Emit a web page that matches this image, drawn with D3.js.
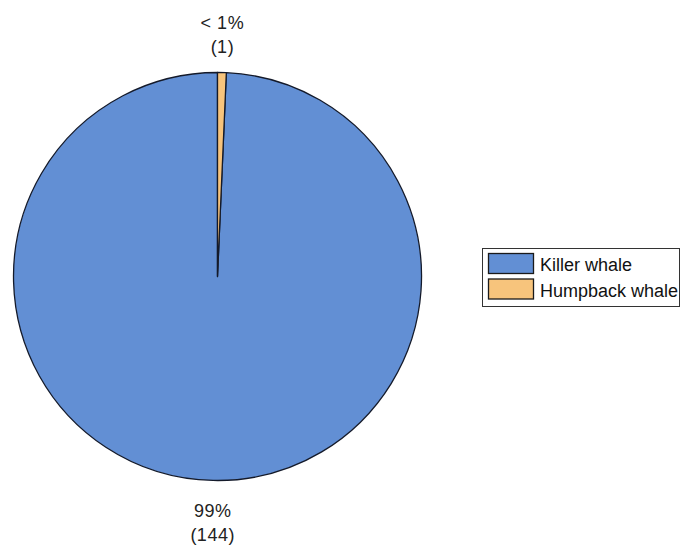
<!DOCTYPE html>
<html><head><meta charset="utf-8">
<script src="https://cdn.jsdelivr.net/npm/d3@7"></script>
<style>body{margin:0;background:#fff;} svg{display:block;font-family:Arial,"Liberation Sans",sans-serif;}</style>
</head><body>
<svg id="c" width="682" height="550"></svg>
<script>
const categories = ["Killer whale", "Humpback whale"];
const values = [144, 1];
const pctLabels = ["99%", "< 1%"];
const countLabels = ["(144)", "(1)"];
const colors = ["#628fd4", "#f7c47c"];

const svg = d3.select("#c");
const cx = 217.5, cy = 276.5, R = 204;
const data = categories.map((c, i) => ({cat: c, v: values[i], pct: pctLabels[i], cnt: countLabels[i], color: colors[i]}));

const pie = d3.pie().value(d => d.v).sort(null).startAngle(0).endAngle(-2 * Math.PI);
const arc = d3.arc().innerRadius(0).outerRadius(R);
const arcs = pie(data);

const g = svg.append("g").attr("transform", `translate(${cx},${cy})`);
g.selectAll("path").data(arcs).join("path")
  .attr("d", arc)
  .attr("fill", d => d.data.color)
  .attr("stroke", "#141a2a")
  .attr("stroke-width", 1.3)
  .attr("stroke-linejoin", "round");

// labels at 1.1R along slice midpoint
const lr = R * 1.1;
arcs.forEach(a => {
  const mid = (a.startAngle + a.endAngle) / 2;
  const x = lr * Math.sin(mid), y = -lr * Math.cos(mid);
  const top = y < 0;
  const t = g.append("text").attr("text-anchor", "middle")
    .attr("font-size", 18).attr("fill", "#222").attr("letter-spacing", 0.5);
  if (top) {
    t.append("tspan").attr("x", x).attr("y", y - 23).text(a.data.pct);
    t.append("tspan").attr("x", x).attr("y", y + 1).text(a.data.cnt);
  } else {
    t.append("tspan").attr("x", x).attr("y", y + 16).text(a.data.pct);
    t.append("tspan").attr("x", x).attr("y", y + 40).text(a.data.cnt);
  }
});

// legend
const lg = svg.append("g");
lg.append("rect").attr("x", 482.5).attr("y", 248.5).attr("width", 197).attr("height", 58)
  .attr("fill", "#fff").attr("stroke", "#333").attr("stroke-width", 1);
data.forEach((d, i) => {
  const y0 = 253 + i * 25.5;
  lg.append("rect").attr("x", 488.5).attr("y", y0 + 0.5).attr("width", 45).attr("height", 20)
    .attr("fill", d.color).attr("stroke", "#1a1a1a").attr("stroke-width", 1.3);
  lg.append("text").attr("x", 540).attr("y", y0 + 18).attr("font-size", 18).attr("fill", "#111").text(d.cat);
});
</script>
</body></html>
